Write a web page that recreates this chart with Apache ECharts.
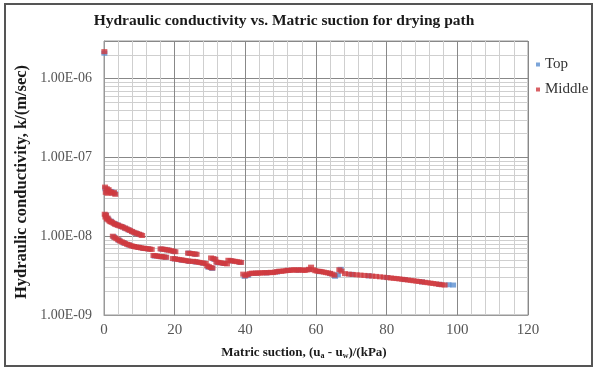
<!DOCTYPE html>
<html>
<head>
<meta charset="utf-8">
<script src="https://cdn.jsdelivr.net/npm/echarts@6/dist/echarts.min.js"></script>
<style>html,body{margin:0;padding:0;background:#fff}#c{width:597px;height:369px}</style>
</head>
<body>
<div id="c"></div>
<script>
const titleText = 'Hydraulic conductivity vs. Matric suction for drying path';
const seriesNames = ['Top', 'Middle'];
const xTicks = [0, 20, 40, 60, 80, 100, 120];
const yTicks = [1e-9, 1e-8, 1e-7, 1e-6];

const topData = [
[0.1,2.1e-6],
[0.4,4.0e-8],[1.1,3.8e-8],[2.1,3.7e-8],[3.0,3.5e-8],
[0.5,1.85e-8],[1.2,1.65e-8],[2.0,1.55e-8],[3.0,1.45e-8],[4.0,1.38e-8],[5.0,1.32e-8],[6.0,1.26e-8],[7.0,1.2e-8],[8.0,1.14e-8],[9.0,1.09e-8],[10.0,1.05e-8],
[2.8,9.8e-9],[4.2,8.9e-9],[5.6,8.2e-9],[7.0,7.75e-9],[8.4,7.4e-9],[9.8,7.2e-9],[11.2,7.0e-9],[12.6,6.9e-9],
[16.3,6.85e-9],[18.0,6.7e-9],[19.8,6.4e-9],
[24.0,6.1e-9],[25.8,5.9e-9],
[14.3,5.6e-9],[16.2,5.5e-9],[17.4,5.4e-9],
[20.0,5.15e-9],[22.0,4.95e-9],[24.0,4.8e-9],
[26.0,4.7e-9],[28.0,4.55e-9],
[29.5,4.05e-9],[30.6,3.9e-9],
[31.2,5.1e-9],
[32.1,4.6e-9],[33.9,4.5e-9],
[36.0,4.85e-9],[38.5,4.65e-9],
[39.8,3.1e-9],[40.8,3.2e-9],
[43.0,3.38e-9],[46.0,3.42e-9],[49.0,3.52e-9],[52.0,3.68e-9],[55.0,3.7e-9],[58.0,3.78e-9],[61.0,3.55e-9],[64.0,3.35e-9],[65.4,3.1e-9],[66.2,3.25e-9],[67.0,3.8e-9],
[70.0,3.28e-9],[75.0,3.14e-9],[80.0,2.99e-9],[85.0,2.82e-9],[90.0,2.63e-9],[95.0,2.45e-9],[97.5,2.42e-9],[98.8,2.4e-9]
];

const middleData = [
[0.1,2.2e-6],
[0.3,4.2e-8],[0.5,3.6e-8],[0.8,4.0e-8],[1.0,3.5e-8],[1.3,3.9e-8],[1.6,3.7e-8],[2.0,3.6e-8],[2.4,3.5e-8],[2.8,3.6e-8],[3.2,3.4e-8],
[0.2,1.9e-8],[0.4,1.75e-8],[0.6,1.85e-8],[0.8,1.65e-8],[1.0,1.7e-8],[1.3,1.6e-8],[1.6,1.55e-8],[1.9,1.52e-8],[2.3,1.5e-8],[2.7,1.46e-8],[3.1,1.42e-8],[3.5,1.4e-8],[3.9,1.38e-8],[4.4,1.35e-8],[4.9,1.33e-8],[5.4,1.3e-8],[5.9,1.27e-8],[6.4,1.24e-8],[6.9,1.21e-8],[7.4,1.18e-8],[7.9,1.15e-8],[8.4,1.12e-8],[8.9,1.1e-8],[9.4,1.08e-8],[9.9,1.06e-8],[10.4,1.04e-8],[10.8,1.02e-8],
[2.5,1.0e-8],[3.0,9.6e-9],[3.5,9.3e-9],[4.0,9.0e-9],[4.5,8.7e-9],[5.0,8.5e-9],[5.5,8.3e-9],[6.0,8.1e-9],[6.5,7.9e-9],[7.0,7.8e-9],[7.5,7.6e-9],[8.0,7.5e-9],[8.5,7.4e-9],[9.0,7.3e-9],[9.5,7.25e-9],[10.0,7.2e-9],[10.5,7.1e-9],[11.0,7.05e-9],[11.5,7.0e-9],[12.0,6.95e-9],[12.5,6.9e-9],[13.0,6.85e-9],[13.5,6.8e-9],
[16.0,6.9e-9],[16.6,6.85e-9],[17.2,6.8e-9],[17.8,6.7e-9],[18.4,6.65e-9],[19.0,6.55e-9],[19.6,6.45e-9],[20.2,6.35e-9],
[23.8,6.1e-9],[24.4,6.05e-9],[25.0,6.0e-9],[25.6,5.95e-9],[26.2,5.9e-9],
[14.0,5.7e-9],[14.5,5.65e-9],[15.0,5.6e-9],[15.5,5.55e-9],[16.0,5.5e-9],[16.5,5.5e-9],[17.0,5.45e-9],[17.6,5.4e-9],
[19.5,5.2e-9],[20.1,5.15e-9],[20.7,5.1e-9],[21.3,5.05e-9],[21.9,5.0e-9],[22.5,4.95e-9],[23.1,4.9e-9],[23.7,4.85e-9],[24.3,4.8e-9],
[25.2,4.8e-9],[25.8,4.75e-9],[26.4,4.7e-9],[27.0,4.65e-9],[27.6,4.6e-9],[28.2,4.55e-9],[28.8,4.5e-9],
[29.2,4.2e-9],[29.7,4.1e-9],[30.2,4.0e-9],[30.7,3.95e-9],
[30.3,5.3e-9],[30.9,5.2e-9],[31.5,5.1e-9],
[31.8,4.7e-9],[32.4,4.65e-9],[33.0,4.6e-9],[33.6,4.55e-9],[34.2,4.5e-9],[34.8,4.45e-9],
[35.2,4.95e-9],[35.8,4.9e-9],[36.4,4.85e-9],[37.0,4.8e-9],[37.6,4.75e-9],[38.2,4.7e-9],[38.8,4.65e-9],
[39.4,3.3e-9],[40.0,3.15e-9],[40.6,3.25e-9],
[41.2,3.35e-9],[41.8,3.4e-9],[42.4,3.38e-9],[43.0,3.4e-9],[43.6,3.42e-9],[44.2,3.4e-9],[44.8,3.43e-9],[45.4,3.45e-9],[46.0,3.42e-9],[46.6,3.45e-9],[47.2,3.48e-9],[47.8,3.45e-9],[48.4,3.5e-9],[49.0,3.55e-9],[49.6,3.6e-9],[50.2,3.58e-9],[50.8,3.62e-9],[51.4,3.65e-9],[52.0,3.7e-9],[52.6,3.68e-9],[53.2,3.72e-9],[53.8,3.75e-9],[54.4,3.7e-9],[55.0,3.72e-9],[55.6,3.75e-9],[56.2,3.7e-9],[56.8,3.68e-9],[57.4,3.72e-9],[58.0,3.8e-9],[58.6,4.05e-9],[59.2,3.75e-9],[59.8,3.65e-9],[60.4,3.6e-9],[61.0,3.58e-9],[61.6,3.55e-9],[62.2,3.5e-9],[62.8,3.45e-9],[63.4,3.42e-9],[64.0,3.38e-9],[64.6,3.3e-9],[65.2,3.2e-9],[66.6,3.75e-9],[67.2,3.6e-9],
[68.2,3.35e-9],[69.3,3.3e-9],[70.4,3.27e-9],[71.5,3.24e-9],[72.6,3.21e-9],[73.7,3.18e-9],[74.8,3.15e-9],[75.9,3.12e-9],[77.0,3.09e-9],[78.1,3.05e-9],[79.2,3.02e-9],[80.3,2.98e-9],[81.2,2.95e-9],[82.0,2.92e-9],[82.8,2.9e-9],[83.6,2.87e-9],[84.4,2.84e-9],[85.2,2.81e-9],[86.0,2.78e-9],[86.8,2.75e-9],[87.6,2.72e-9],[88.4,2.69e-9],[89.2,2.66e-9],[90.0,2.63e-9],[90.8,2.6e-9],[91.6,2.57e-9],[92.4,2.54e-9],[93.2,2.51e-9],[94.0,2.48e-9],[94.8,2.45e-9],[95.6,2.42e-9],[96.4,2.4e-9]
];

// minor log gridlines (2..9 within each decade) and minor x gridlines (every 4)
const minorY = [];
for (let e = -9; e <= -6; e++) {
  for (let m = 2; m <= 9; m++) {
    const v = m * Math.pow(10, e);
    if (v < 3e-6) minorY.push(v);
  }
}
const minorX = [];
for (let x = 4; x < 120; x += 4) { if (x % 20 !== 0) minorX.push(x); }

function fmtExp(v) {
  const e = Math.round(Math.log10(v));
  const m = v / Math.pow(10, e);
  const sign = e < 0 ? '-' : '+';
  const a = Math.abs(e);
  return m.toFixed(2) + 'E' + sign + (a < 10 ? '0' + a : a);
}

const serif = '"Liberation Serif", "DejaVu Serif", serif';
const minorLine = {show: true, lineStyle: {color: '#cfcfcf', width: 1}};
const chart = echarts.init(document.getElementById('c'), null, {renderer: 'canvas'});
chart.setOption({
  animation: false,
  backgroundColor: '#fff',
  title: {
    text: titleText, left: 279, top: 8, textAlign: 'center',
    textStyle: {fontFamily: serif, fontSize: 15.5, fontWeight: 'bold', color: '#1a1a1a'}
  },
  legend: {
    data: seriesNames, orient: 'vertical', left: 531, top: 52, itemGap: 10,
    icon: 'rect', itemWidth: 4, itemHeight: 4,
    textStyle: {fontFamily: serif, fontSize: 15, color: '#333'}
  },
  grid: {left: 104, right: 69, top: 41, bottom: 54, show: true, borderColor: '#999', borderWidth: 1},
  xAxis: [
    {
      type: 'value', min: 0, max: 120, position: 'bottom',
      axisLine: {show: false}, axisLabel: {show: false},
      axisTick: {show: false, customValues: minorX},
      splitLine: minorLine
    },
    {
      type: 'value', min: 0, max: 120, interval: 20, position: 'bottom',
      axisLine: {show: true, lineStyle: {color: '#999'}},
      axisTick: {show: false},
      axisLabel: {fontFamily: serif, fontSize: 15, color: '#555', margin: 8,
        customValues: xTicks},
      splitLine: {show: true, lineStyle: {color: '#888', width: 1}}
    }
  ],
  yAxis: [
    {
      type: 'log', logBase: 10, min: 1e-9, max: 3e-6, position: 'left',
      axisLine: {show: false}, axisLabel: {show: false},
      axisTick: {show: false, customValues: minorY},
      splitLine: minorLine
    },
    {
      type: 'log', logBase: 10, min: 1e-9, max: 3e-6, position: 'left',
      axisLine: {show: true, lineStyle: {color: '#999'}},
      axisTick: {show: false},
      axisLabel: {fontFamily: serif, fontSize: 14, color: '#555', margin: 12,
        customValues: yTicks, formatter: fmtExp},
      splitLine: {show: true, lineStyle: {color: '#888', width: 1}}
    }
  ],
  graphic: [
    {type: 'rect', shape: {x: 5, y: 4, width: 587, height: 362}, style: {fill: 'none', stroke: '#555', lineWidth: 2}, silent: true},
    {type: 'text', x: 22, y: 182, rotation: Math.PI / 2,
      style: {text: 'Hydraulic conductivity, k/(m/sec)', fontFamily: serif, fontSize: 16.5, fontWeight: 'bold', fill: '#1a1a1a', align: 'center', verticalAlign: 'middle'}},
    {type: 'text', x: 304, y: 353,
      style: {text: 'Matric suction, (u{s|a} - u{s|w})/(kPa)', fontFamily: serif, fontSize: 13, fontWeight: 'bold', fill: '#1a1a1a', align: 'center', verticalAlign: 'middle',
        rich: {s: {fontFamily: serif, fontSize: 8, fontWeight: 'bold', fill: '#1a1a1a', verticalAlign: 'bottom', padding: [6, 0, 0, 0]}}}}
  ],
  series: [
    {
      name: 'Top', type: 'scatter', data: topData, z: 3,
      xAxisIndex: 1, yAxisIndex: 1,
      symbol: 'rect', symbolSize: [6, 5],
      itemStyle: {color: '#5b8ed0'}
    },
    {
      name: 'Middle', type: 'scatter', data: middleData, z: 4,
      xAxisIndex: 1, yAxisIndex: 1,
      symbol: 'rect', symbolSize: [6, 5],
      itemStyle: {color: '#cf3a3f'}
    }
  ]
});
</script>
</body>
</html>
